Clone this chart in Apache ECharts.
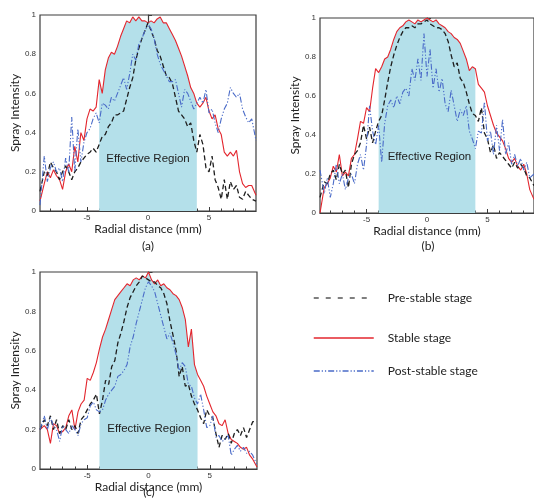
<!DOCTYPE html>
<html>
<head>
<meta charset="utf-8">
<script src="https://cdn.jsdelivr.net/npm/echarts@6/dist/echarts.min.js"></script>
<style>
  html, body { margin: 0; padding: 0; background: #fff; }
  #chart { width: 534px; height: 504px; }
</style>
</head>
<body>
<div id="chart"></div>
<script>
// Radial positions (mm) shared by every profile
const radial = [-8.85,-8.5,-8.25,-8,-7.75,-7.5,-7.25,-7,-6.75,-6.5,
  -6.25,-6,-5.75,-5.5,-5.25,-5,-4.75,-4.5,-4.25,-4,
  -3.75,-3.5,-3.25,-3,-2.75,-2.5,-2.25,-2,-1.75,-1.5,
  -1.25,-1,-0.75,-0.5,-0.25,0,0.25,0.5,0.75,1,
  1.25,1.5,1.75,2,2.25,2.5,2.75,3,3.25,3.5,
  3.75,4,4.25,4.5,4.75,5,5.25,5.5,5.75,6,
  6.25,6.5,6.75,7,7.25,7.5,7.75,8,8.25,8.5,
  8.85];

// (a)
const preA = [0.10,0.20,0.18,0.25,0.22,0.20,0.16,0.20,0.23,0.20,
  0.16,0.20,0.22,0.25,0.27,0.29,0.30,0.32,0.30,0.34,
  0.38,0.39,0.43,0.45,0.49,0.49,0.50,0.51,0.57,0.63,
  0.68,0.77,0.83,0.88,0.92,0.96,0.92,0.88,0.82,0.79,
  0.74,0.69,0.68,0.65,0.58,0.51,0.49,0.47,0.43,0.45,
  0.36,0.30,0.39,0.34,0.22,0.20,0.28,0.16,0.12,0.06,
  0.16,0.06,0.15,0.11,0.13,0.07,0.06,0.10,0.08,0.06,
  0.05];
const stableA = [0.05,0.14,0.20,0.17,0.21,0.18,0.16,0.11,0.20,0.24,
  0.20,0.33,0.25,0.40,0.36,0.47,0.52,0.51,0.53,0.67,
  0.60,0.72,0.78,0.81,0.80,0.84,0.89,0.93,0.97,0.96,
  0.99,0.97,0.99,0.97,0.97,0.96,0.97,0.96,0.98,0.99,
  0.96,0.96,0.93,0.90,0.87,0.83,0.79,0.74,0.69,0.63,
  0.60,0.55,0.53,0.55,0.58,0.51,0.47,0.49,0.42,0.39,
  0.30,0.28,0.30,0.28,0.31,0.20,0.14,0.12,0.13,0.13,
  0.08];
const postA = [0.03,0.28,0.15,0.22,0.25,0.20,0.22,0.15,0.27,0.20,
  0.48,0.20,0.42,0.25,0.35,0.40,0.42,0.47,0.50,0.45,
  0.55,0.54,0.52,0.58,0.56,0.60,0.64,0.68,0.62,0.70,
  0.80,0.77,0.85,0.88,0.92,0.95,0.93,0.88,0.80,0.75,
  0.72,0.69,0.66,0.66,0.67,0.60,0.53,0.62,0.60,0.56,
  0.52,0.55,0.58,0.55,0.62,0.50,0.52,0.45,0.40,0.47,
  0.52,0.55,0.63,0.60,0.58,0.60,0.52,0.48,0.45,0.47,
  0.36];

// (b)
const preB = [0.08,0.16,0.15,0.20,0.22,0.17,0.25,0.20,0.22,0.13,
  0.25,0.30,0.32,0.36,0.45,0.38,0.44,0.36,0.42,0.47,
  0.50,0.58,0.67,0.75,0.81,0.86,0.90,0.93,0.95,0.95,
  0.96,0.95,0.97,0.97,0.98,0.99,0.97,0.96,0.95,0.95,
  0.94,0.92,0.88,0.81,0.75,0.77,0.69,0.67,0.62,0.56,
  0.51,0.50,0.47,0.54,0.41,0.38,0.31,0.35,0.28,0.31,
  0.29,0.27,0.25,0.23,0.26,0.23,0.25,0.23,0.19,0.18,
  0.14];
const stableB = [0.00,0.13,0.15,0.18,0.24,0.21,0.30,0.19,0.21,0.19,
  0.28,0.30,0.38,0.47,0.46,0.54,0.52,0.64,0.74,0.72,
  0.75,0.79,0.80,0.84,0.89,0.93,0.95,0.96,0.98,0.99,
  0.98,0.97,0.99,0.98,0.99,1.00,0.99,0.98,0.99,0.97,
  0.96,0.95,0.93,0.92,0.90,0.89,0.87,0.83,0.79,0.73,
  0.75,0.74,0.66,0.64,0.62,0.55,0.50,0.45,0.41,0.39,
  0.37,0.33,0.28,0.26,0.28,0.24,0.22,0.25,0.20,0.12,
  0.07];
const postB = [0.22,0.10,0.18,0.08,0.15,0.25,0.15,0.20,0.12,0.18,
  0.20,0.15,0.25,0.30,0.22,0.35,0.55,0.42,0.35,0.45,
  0.26,0.46,0.55,0.58,0.54,0.60,0.56,0.62,0.64,0.60,
  0.74,0.68,0.79,0.68,0.92,0.70,0.84,0.64,0.74,0.62,
  0.69,0.56,0.52,0.63,0.55,0.47,0.53,0.50,0.55,0.42,
  0.38,0.33,0.42,0.41,0.57,0.37,0.42,0.30,0.45,0.32,
  0.48,0.30,0.36,0.25,0.30,0.24,0.28,0.22,0.26,0.18,
  0.20];

// (c)
const preC = [0.20,0.25,0.22,0.27,0.20,0.25,0.18,0.22,0.20,0.25,
  0.20,0.22,0.18,0.25,0.27,0.30,0.33,0.35,0.38,0.28,
  0.35,0.45,0.43,0.52,0.55,0.64,0.69,0.75,0.82,0.87,
  0.90,0.93,0.95,0.98,0.97,0.96,0.95,0.95,0.93,0.92,
  0.89,0.84,0.75,0.68,0.60,0.47,0.52,0.42,0.43,0.37,
  0.33,0.30,0.26,0.23,0.30,0.27,0.26,0.18,0.11,0.17,
  0.15,0.18,0.13,0.18,0.20,0.17,0.21,0.16,0.20,0.24,
  0.24];
const stableC = [0.20,0.22,0.20,0.13,0.23,0.22,0.18,0.19,0.21,0.27,
  0.30,0.20,0.29,0.33,0.35,0.46,0.45,0.49,0.54,0.61,
  0.67,0.71,0.76,0.81,0.86,0.88,0.90,0.92,0.94,0.93,
  0.96,0.97,0.96,0.98,0.97,1.00,0.96,0.94,0.96,0.93,
  0.94,0.92,0.91,0.89,0.88,0.86,0.82,0.76,0.62,0.71,
  0.53,0.48,0.45,0.42,0.37,0.33,0.29,0.27,0.23,0.22,
  0.25,0.18,0.15,0.14,0.13,0.11,0.10,0.11,0.07,0.05,
  0.01];
const postC = [0.20,0.27,0.20,0.26,0.22,0.20,0.14,0.22,0.20,0.18,
  0.22,0.20,0.17,0.23,0.25,0.26,0.32,0.34,0.30,0.29,
  0.30,0.35,0.38,0.40,0.42,0.47,0.48,0.50,0.53,0.62,
  0.67,0.74,0.80,0.86,0.92,0.95,0.93,0.90,0.84,0.78,
  0.72,0.66,0.69,0.64,0.58,0.50,0.54,0.52,0.43,0.42,
  0.36,0.33,0.38,0.30,0.21,0.22,0.27,0.16,0.17,0.14,
  0.15,0.17,0.07,0.10,0.12,0.09,0.11,0.08,0.09,0.07,
  0.02];

// Effective region bounds (mm) and panel captions
const effectiveRange = [-4, 4];
const panelNames = ['(a)', '(b)', '(c)'];
const stageNames = ['Pre-stable stage', 'Stable stage', 'Post-stable stage'];
const regionLabelAt = [[0, 0.265], [0.2, 0.29], [0.05, 0.205]];
const xTicks = [-5, 0, 5];
const xMinorTicks = [-8, -7, -6, -4, -3, -2, -1, 1, 2, 3, 4, 6, 7, 8];

const panels = [
  { pre: preA, stable: stableA, post: postA, grid: { left: 40, top: 15, width: 216, height: 196 }, nameGap: 10, caption: [148, 246] },
  { pre: preB, stable: stableB, post: postB, grid: { left: 320, top: 18, width: 216, height: 195 }, nameGap: 10, caption: [428, 246] },
  { pre: preC, stable: stableC, post: postC, grid: { left: 40, top: 272, width: 217, height: 197 }, nameGap: 5, caption: [149, 492] }
];

const AXIS_COLOR = '#3d3d3d';
const LABEL_FONT = 'Lato, "Liberation Sans", sans-serif';
const TICK_FONT = '"Liberation Sans", Arial, sans-serif';
const SHADE = '#b4e0ea';
const RED = '#e3262e';
const BLACK = '#1e1e1e';
const BLUE = '#4a6bc8';

const pairs = (vals) => radial.map((x, i) => [x, vals[i]]);

const grid = [], xAxis = [], yAxis = [], series = [], graphic = [];

panels.forEach((p, k) => {
  grid.push(Object.assign({ show: true, borderColor: AXIS_COLOR, borderWidth: 1.2, backgroundColor: 'transparent' }, p.grid));

  // main x axis with labelled ticks
  xAxis.push({
    type: 'value', gridIndex: k, min: -8.85, max: 8.85,
    name: 'Radial distance (mm)', nameLocation: 'middle', nameGap: p.nameGap,
    nameTextStyle: { fontFamily: LABEL_FONT, fontSize: 12, color: '#222' },
    axisLine: { show: true, lineStyle: { color: AXIS_COLOR, width: 1.2 } },
    axisTick: { show: true, inside: true, length: 4, customValues: xTicks, lineStyle: { color: AXIS_COLOR } },
    axisLabel: { customValues: xTicks, margin: 3, fontFamily: TICK_FONT, fontSize: 8, color: '#333' },
    splitLine: { show: false }
  });
  // companion axis carrying the 1 mm minor ticks
  xAxis.push({
    type: 'value', gridIndex: k, min: -8.85, max: 8.85, position: 'bottom', offset: 0,
    axisLine: { show: false },
    axisTick: { show: true, inside: true, length: 2.5, customValues: xMinorTicks, lineStyle: { color: AXIS_COLOR } },
    axisLabel: { show: false },
    splitLine: { show: false }
  });

  yAxis.push({
    type: 'value', gridIndex: k, min: 0, max: 1, interval: 0.2,
    name: 'Spray Intensity', nameLocation: 'middle', nameGap: 18,
    nameTextStyle: { fontFamily: LABEL_FONT, fontSize: 12, color: '#222' },
    axisLine: { show: true, lineStyle: { color: AXIS_COLOR, width: 1.2 } },
    axisTick: { show: true, inside: true, length: 4, lineStyle: { color: AXIS_COLOR } },
    minorTick: { show: true, splitNumber: 2, length: 2.5, lineStyle: { color: AXIS_COLOR } },
    axisLabel: { margin: 4, fontFamily: TICK_FONT, fontSize: 8, color: '#333' },
    splitLine: { show: false }
  });

  const xi = k * 2;

  // shaded effective region under the stable-stage profile
  series.push({
    name: 'Effective Region', type: 'line', xAxisIndex: xi, yAxisIndex: k,
    data: pairs(p.stable).filter(d => d[0] >= effectiveRange[0] && d[0] <= effectiveRange[1]),
    symbol: 'none', silent: true, z: 1,
    lineStyle: { width: 0, opacity: 0 },
    areaStyle: { color: SHADE, opacity: 1 },
    markPoint: {
      symbol: 'circle', symbolSize: 0, silent: true,
      itemStyle: { color: 'transparent' },
      label: { show: true, position: 'inside', formatter: 'Effective Region', fontFamily: TICK_FONT, fontSize: 11.5, color: '#222' },
      data: [{ coord: regionLabelAt[k] }]
    }
  });

  series.push({
    name: stageNames[1], type: 'line', xAxisIndex: xi, yAxisIndex: k, z: 3,
    data: pairs(p.stable), symbol: 'none',
    lineStyle: { color: RED, width: 1.1 }, itemStyle: { color: RED }
  });
  series.push({
    name: stageNames[0], type: 'line', xAxisIndex: xi, yAxisIndex: k, z: 4,
    data: pairs(p.pre), symbol: 'none',
    lineStyle: { color: BLACK, width: 1.3, type: [5, 3] }, itemStyle: { color: BLACK }
  });
  series.push({
    name: stageNames[2], type: 'line', xAxisIndex: xi, yAxisIndex: k, z: 4,
    data: pairs(p.post), symbol: 'none',
    lineStyle: { color: BLUE, width: 1.1, type: [6, 2, 1.2, 2, 1.2, 2] }, itemStyle: { color: BLUE }
  });

  graphic.push({
    type: 'text', x: p.caption[0], y: p.caption[1],
    style: { text: panelNames[k], align: 'center', verticalAlign: 'middle', font: '12px ' + LABEL_FONT, fill: '#222' }
  });
});

// legend keys: plain line samples, no marker in the middle
const legendRows = [292, 332, 365];
const legendDash = [[5, 7], 'solid', [6, 2, 1.2, 2, 1.2, 2]];
const legendColor = ['#555', RED, BLUE];
const legend = stageNames.map((name, i) => ({
  data: [name], left: 313, top: legendRows[i], orient: 'vertical',
  padding: 0, itemWidth: 60, itemHeight: 14, selectedMode: false,
  itemStyle: { opacity: 0 },
  lineStyle: { color: legendColor[i], width: 1.5, type: legendDash[i] },
  textStyle: { fontFamily: LABEL_FONT, fontSize: 12, color: '#222', padding: [0, 0, 0, 9] }
}));

const chart = echarts.init(document.getElementById('chart'), null, { renderer: 'canvas' });
chart.setOption({
  animation: false,
  backgroundColor: '#fff',
  grid, xAxis, yAxis, series, legend, graphic
});
</script>
</body>
</html>
